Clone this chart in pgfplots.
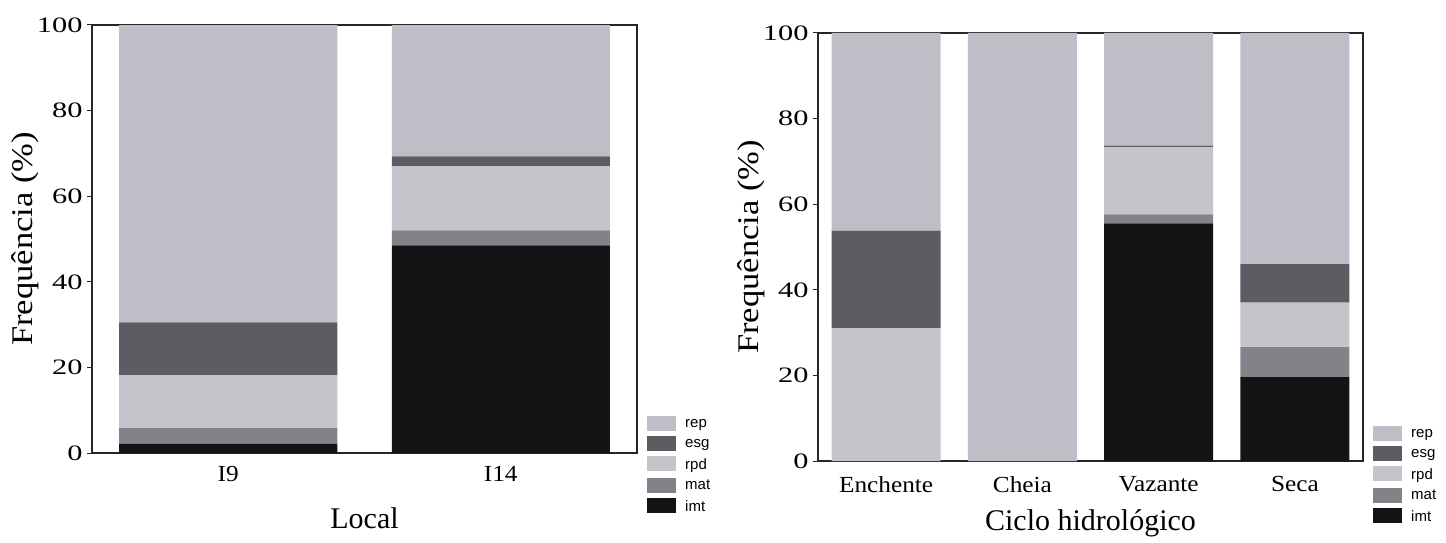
\documentclass[border=0pt]{standalone}
\usepackage{fontspec}
\setmainfont{Liberation Serif}
\newfontfamily\ytickfont[FakeStretch=1.38]{Liberation Serif}
\newfontfamily\xtickfont[FakeStretch=1.1]{Liberation Serif}
\newfontfamily\ylabfont[FakeStretch=1.15]{Liberation Serif}
\newfontfamily\legfont{Liberation Sans}
\usepackage{pgfplots}
\usepackage{pgfplotstable}
\pgfplotsset{compat=1.18}

\definecolor{repc}{HTML}{BEBEC6}
\definecolor{esgc}{HTML}{5C5C62}
\definecolor{rpdc}{HTML}{C4C4CA}
\definecolor{matc}{HTML}{828288}
\definecolor{imtc}{HTML}{141416}

% Local
\pgfplotstableread{
x imt mat rpd esg rep
0 2.2 3.6 12.4 12.3 69.5
1 48.5 3.5 15.0 2.3 30.7
}\loctab
% Ciclo hidrologico
\pgfplotstableread{
x imt mat rpd esg rep
0 0 0 31.0 22.8 46.2
1 0 0 0 0 100
2 55.5 2.1 15.7 0.4 26.3
3 19.6 7.0 10.4 9.0 54.0
}\cictab

\pgfplotsset{
  mystack/.style={
    ybar stacked, bar width=0.8,
    scale only axis, width=545pt, height=428pt,
    anchor=south west,
    ymin=0, ymax=100, ytick={0,20,...,100},
    axis line style={line width=1.3pt, color=black!85},
    tick align=outside, ytick pos=left, xtick pos=bottom,
    major tick length=5pt,
    ytick style={line width=1pt, color=black!85},
    xtick style={draw=none},
    /pgf/number format/assume math mode=true,
    yticklabel style={font=\fontsize{22}{25}\selectfont\ytickfont, xshift=-1pt},
    xticklabel style={font=\fontsize{23}{26}\selectfont\xtickfont},
    ylabel={Frequência (\%)},
    ylabel style={font=\fontsize{30}{33}\selectfont\ylabfont, at={(axis description cs:-0.123,0.5)}, anchor=center, rotate=0},
    xlabel style={font=\fontsize{30}{33}\selectfont, anchor=center},
    legend style={draw=none, fill=none, anchor=north west,
      font=\fontsize{15}{17}\selectfont\legfont, row sep=5pt,
      /tikz/every odd column/.append style={column sep=7pt}},
    legend cell align=left,
    reverse legend,
    legend image code/.code={\path[##1,draw=none] (0pt,-7pt) rectangle (29pt,8pt);},
  },
}

\begin{document}
\begin{tikzpicture}
\useasboundingbox (0,0) rectangle (1446pt,542pt);
\begin{axis}[mystack, at={(92pt,89pt)},
  xmin=-0.5, xmax=1.5, xtick={0,1}, xticklabels={I9,I14},
  xticklabel style={yshift=-5pt},
  xlabel={Local},
  xlabel style={at={(axis description cs:0.5,-0.152)}},
  legend style={at={(1,0)}, xshift=7pt, yshift=39pt}]
\addplot[fill=imtc, draw=none] table[x=x, y=imt] {\loctab};
\addplot[fill=matc, draw=none] table[x=x, y=mat] {\loctab};
\addplot[fill=rpdc, draw=none] table[x=x, y=rpd] {\loctab};
\addplot[fill=esgc, draw=none] table[x=x, y=esg] {\loctab};
\addplot[fill=repc, draw=none] table[x=x, y=rep] {\loctab};
\legend{imt,mat,rpd,esg,rep}
\end{axis}
\begin{axis}[mystack, at={(818pt,81pt)},
  xmin=-0.5, xmax=3.5, xtick={0,1,2,3}, xticklabels={Enchente,Cheia,Vazante,Seca},
  xticklabel style={yshift=-7pt},
  xlabel={Ciclo hidrológico},
  xlabel style={at={(axis description cs:0.5,-0.145)}},
  legend style={at={(1,0)}, xshift=7pt, yshift=37pt}]
\addplot[fill=imtc, draw=none] table[x=x, y=imt] {\cictab};
\addplot[fill=matc, draw=none] table[x=x, y=mat] {\cictab};
\addplot[fill=rpdc, draw=none] table[x=x, y=rpd] {\cictab};
\addplot[fill=esgc, draw=none] table[x=x, y=esg] {\cictab};
\addplot[fill=repc, draw=none] table[x=x, y=rep] {\cictab};
\legend{imt,mat,rpd,esg,rep}
\end{axis}
\end{tikzpicture}
\end{document}
